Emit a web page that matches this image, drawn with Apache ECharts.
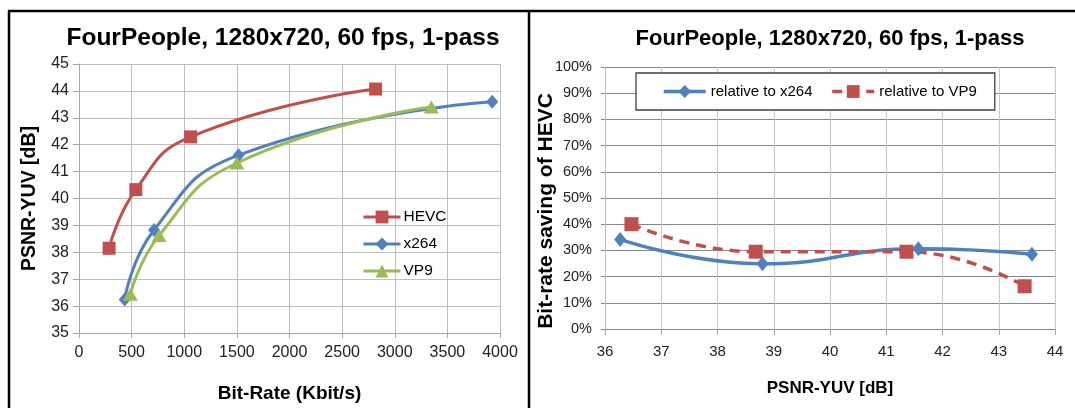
<!DOCTYPE html>
<html><head><meta charset="utf-8">
<script src="https://cdn.jsdelivr.net/npm/echarts@6/dist/echarts.min.js"></script>
<style>html,body{margin:0;padding:0;background:#fff}#c{width:1075px;height:408px}</style>
</head><body><div id="c"></div>
<script>
// ---- Left chart data (rate-distortion curves) ----
const hevcRate = [286, 540, 1060, 2818];
const hevcPsnr = [38.15, 40.33, 42.29, 44.07];
const x264Rate = [434, 713, 1516, 3926];
const x264Psnr = [36.25, 38.83, 41.61, 43.60];
const vp9Rate  = [488, 761, 1500, 3348];
const vp9Psnr  = [36.44, 38.62, 41.32, 43.40];
// ---- Right chart data (bit-rate saving of HEVC, %) ----
const relX264Psnr = [36.27, 38.80, 41.57, 43.59];
const relX264Save = [34.2, 24.9, 30.6, 28.5];
const relVp9Psnr  = [36.47, 38.68, 41.36, 43.46];
const relVp9Save  = [40.0, 29.5, 29.5, 16.3];
// ---- Texts ----
const titleText = 'FourPeople, 1280x720, 60 fps, 1-pass';
const seriesNames = ['HEVC', 'x264', 'VP9'];
const relNames = ['relative to x264', 'relative to VP9'];

const pair = (xs, ys) => xs.map((x, i) => [x, ys[i]]);
const RED = '#C0504D', BLUE = '#4F81BD', GREEN = '#9BBB59';
const SANS = '"Liberation Sans", Arial, sans-serif';

const chart = echarts.init(document.getElementById('c'), null, {renderer: 'canvas'});
chart.setOption({
  animation: false,
  backgroundColor: '#fff',
  title: [
    {text: titleText, left: 283, top: 26, textAlign: 'center', padding: 0,
     textStyle: {fontFamily: SANS, fontWeight: 'bold', fontSize: 24.5, color: '#000'}},
    {text: titleText, left: 830, top: 28, textAlign: 'center', padding: 0,
     textStyle: {fontFamily: SANS, fontWeight: 'bold', fontSize: 22, color: '#000'}}
  ],
  legend: [
    {data: seriesNames, orient: 'vertical', left: 362, top: 209, itemWidth: 37, itemHeight: 16,
     itemGap: 11, padding: 0, lineStyle: {width: 3},
     textStyle: {fontFamily: SANS, fontSize: 15.5, color: '#000', padding: [0,0,0,-2]}},
    {data: relNames, orient: 'horizontal', left: 636, top: 73, itemWidth: 42, itemHeight: 16,
     itemGap: 18, padding: [11, 18, 11, 26], borderColor: '#404040', borderWidth: 1.3,
     backgroundColor: '#fff', lineStyle: {width: 3.5},
     textStyle: {fontFamily: SANS, fontSize: 15, color: '#000'}}
  ],
  grid: [
    {left: 79, top: 64, width: 421, height: 271},
    {left: 605, top: 67, width: 450, height: 262}
  ],
  xAxis: [
    {gridIndex: 0, type: 'value', min: 0, max: 4000, interval: 500,
     name: 'Bit-Rate (Kbit/s)', nameLocation: 'middle', nameGap: 51, nameMoveOverlap: false,
     nameTextStyle: {fontFamily: SANS, fontWeight: 'bold', fontSize: 19, color: '#000'},
     axisLine: {show: true, lineStyle: {color: '#A6A6A6', width: 1}},
     axisTick: {show: true, length: 5, lineStyle: {color: '#A6A6A6'}},
     axisLabel: {fontFamily: SANS, fontSize: 16, color: '#222', margin: 12, formatter: v => String(v)},
     splitLine: {show: true, lineStyle: {color: '#BFBFBF', width: 1}}},
    {gridIndex: 1, type: 'value', min: 36, max: 44, interval: 1,
     name: 'PSNR-YUV [dB]', nameLocation: 'middle', nameGap: 51, nameMoveOverlap: false,
     nameTextStyle: {fontFamily: SANS, fontWeight: 'bold', fontSize: 17, color: '#000'},
     axisLine: {show: true, lineStyle: {color: '#878787', width: 1}},
     axisTick: {show: true, length: 6, lineStyle: {color: '#A6A6A6'}},
     axisLabel: {fontFamily: SANS, fontSize: 15, color: '#222', margin: 15, formatter: v => String(v)},
     splitLine: {show: true, lineStyle: {color: '#C8C8C8', width: 1}}}
  ],
  yAxis: [
    {gridIndex: 0, type: 'value', min: 35, max: 45, interval: 1,
     name: 'PSNR-YUV [dB]', nameLocation: 'middle', nameGap: 39, nameMoveOverlap: false,
     nameTextStyle: {fontFamily: SANS, fontWeight: 'bold', fontSize: 19.5, color: '#000'},
     axisLine: {show: true, lineStyle: {color: '#A6A6A6', width: 1}},
     axisTick: {show: true, length: 6, lineStyle: {color: '#A6A6A6'}},
     axisLabel: {fontFamily: SANS, fontSize: 16, color: '#222', margin: 10},
     splitLine: {show: true, lineStyle: {color: '#BFBFBF', width: 1}}},
    {gridIndex: 1, type: 'value', min: 0, max: 100, interval: 10,
     name: 'Bit-rate saving of HEVC', nameLocation: 'middle', nameGap: 48, nameMoveOverlap: false,
     nameTextStyle: {fontFamily: SANS, fontWeight: 'bold', fontSize: 21, color: '#000', padding: [0, 26, 0, 0]},
     axisLine: {show: true, lineStyle: {color: '#BFBFBF', width: 1}},
     axisTick: {show: true, length: 4, lineStyle: {color: '#878787'}},
     axisLabel: {fontFamily: SANS, fontSize: 14.5, color: '#222', margin: 13, formatter: '{value}%'},
     splitLine: {show: true, lineStyle: {color: '#878787', width: 1}}}
  ],
  graphic: [
    {type: 'line', shape: {x1: 8, y1: 11, x2: 1075, y2: 11}, style: {stroke: '#000', lineWidth: 2.5}, silent: true},
    {type: 'line', shape: {x1: 9, y1: 11, x2: 9, y2: 408}, style: {stroke: '#000', lineWidth: 2.5}, silent: true},
    {type: 'line', shape: {x1: 529, y1: 11, x2: 529, y2: 408}, style: {stroke: '#000', lineWidth: 2.5}, silent: true}
  ],
  series: [
    {name: 'HEVC', type: 'line', xAxisIndex: 0, yAxisIndex: 0, data: pair(hevcRate, hevcPsnr),
     smooth: 0.5, symbol: 'rect', symbolSize: 13, color: RED,
     lineStyle: {width: 3, color: RED}, itemStyle: {color: RED}},
    {name: 'x264', type: 'line', xAxisIndex: 0, yAxisIndex: 0, data: pair(x264Rate, x264Psnr),
     smooth: 0.5, symbol: 'diamond', symbolSize: [12, 14], color: BLUE,
     lineStyle: {width: 3, color: BLUE}, itemStyle: {color: BLUE}},
    {name: 'VP9', type: 'line', xAxisIndex: 0, yAxisIndex: 0, data: pair(vp9Rate, vp9Psnr),
     smooth: 0.5, symbol: 'triangle', symbolSize: [15, 13], color: GREEN,
     lineStyle: {width: 3, color: GREEN}, itemStyle: {color: GREEN}},
    {name: 'relative to x264', type: 'line', xAxisIndex: 1, yAxisIndex: 1, data: pair(relX264Psnr, relX264Save),
     smooth: 0.5, symbol: 'diamond', symbolSize: [12, 15], color: BLUE,
     lineStyle: {width: 3.5, color: BLUE}, itemStyle: {color: BLUE}},
    {name: 'relative to VP9', type: 'line', xAxisIndex: 1, yAxisIndex: 1, data: pair(relVp9Psnr, relVp9Save),
     smooth: 0.5, symbol: 'rect', symbolSize: 14, color: RED,
     lineStyle: {width: 3.5, color: RED, type: [10, 7]}, itemStyle: {color: RED}}
  ]
});
</script></body></html>
